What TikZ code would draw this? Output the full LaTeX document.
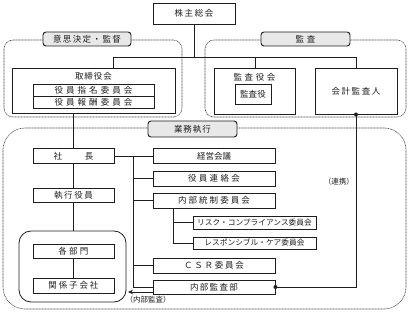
\documentclass[tikz,border=0pt]{standalone}
\usepackage{fontspec}
\setmainfont{Noto Sans CJK JP}
\usetikzlibrary{arrows.meta}
\def\sprA#1{#1\sprB}
\def\sprB#1{\ifx#1\relax\else\hfil#1\expandafter\sprB\fi}
\newcommand\spreadbox[2]{\makebox[#1pt][s]{\sprA#2\relax}}
\definecolor{tabgray}{RGB}{232,232,232}
\definecolor{ink}{RGB}{30,30,30}
\begin{document}
\begin{tikzpicture}[x=1pt,y=-1pt,
  every node/.style={text=ink},
  box/.style={draw=ink, line width=0.9pt, fill=white, inner sep=0pt, font=\fontsize{8.5}{9}\selectfont},
  tab/.style={draw=ink, line width=0.9pt, fill=tabgray, rounded corners=3pt, inner sep=0pt, font=\fontsize{8.5}{9}\selectfont},
  grp/.style={draw=ink!80, line width=0.6pt, dash pattern=on 0.9pt off 0.6pt, inner sep=0pt},
  sgrp/.style={draw=ink, line width=0.8pt, inner sep=0pt, rounded corners=12pt},
  conn/.style={draw=ink, line width=0.9pt},
  lbl/.style={inner sep=0pt, font=\fontsize{7.5}{8}\selectfont},
]
\useasboundingbox (0,0) rectangle (408,313);

% group boxes
\node[grp, rounded corners=9pt, minimum width=178pt, minimum height=77pt] (decgrp) at (93,78.5) {};
\node[grp, rounded corners=9pt, minimum width=201pt, minimum height=77pt] (audgrp) at (305.5,78.5) {};
\node[grp, rounded corners=22pt, minimum width=403pt, minimum height=181pt] (exegrp) at (204.5,218.5) {};
\node[sgrp, minimum width=107pt, minimum height=71pt] (bumongrp) at (72.5,266.5) {};

% tabs
\node[tab, minimum width=88pt, minimum height=14pt] (dectab) at (87,39) {\spreadbox{68}{意思決定・監督}};
\node[tab, minimum width=89pt, minimum height=14pt] (audtab) at (305.5,39) {\spreadbox{20}{監査}};
\node[tab, minimum width=89pt, minimum height=16pt] (exetab) at (192.5,129) {\spreadbox{37}{業務執行}};

% top
\node[box, minimum width=82pt, minimum height=21pt] (kabu) at (194,13.5) {\spreadbox{39}{株主総会}};

% decision
\node[box, minimum width=163pt, minimum height=45pt] (tori) at (93.5,90.5) {};
\node[lbl, font=\fontsize{8.5}{9}\selectfont] (torilbl) at (93.5,76) {\spreadbox{37}{取締役会}};
\node[box, minimum width=121pt, minimum height=12pt] (shimei) at (93.5,90) {\spreadbox{78}{役員指名委員会}};
\node[box, minimum width=121pt, minimum height=12pt] (hoshu) at (93.5,102) {\spreadbox{78}{役員報酬委員会}};

% audit
\node[box, minimum width=81pt, minimum height=46pt] (kansakai) at (254.5,91) {};
\node[lbl, font=\fontsize{8.5}{9}\selectfont] (kansakailbl) at (254.5,77) {\spreadbox{42}{監査役会}};
\node[box, minimum width=36pt, minimum height=20pt] (kansayaku) at (253,94) {\spreadbox{26}{監査役}};
\node[box, minimum width=82pt, minimum height=46pt] (kaikei) at (356,91) {\spreadbox{49}{会計監査人}};

% execution left
\node[box, minimum width=81pt, minimum height=15pt] (shacho) at (73.5,156) {\spreadbox{40}{社長}};
\node[box, minimum width=81pt, minimum height=14pt] (shikko) at (73.5,195) {\spreadbox{39}{執行役員}};
\node[box, minimum width=81pt, minimum height=14pt] (bumon) at (73.5,251) {\spreadbox{30}{各部門}};
\node[box, minimum width=81pt, minimum height=15pt] (kogaisha) at (73.5,285.5) {\spreadbox{50}{関係子会社}};

% execution right
\node[box, minimum width=122pt, minimum height=15pt] (keiei) at (214,156) {経営会議};
\node[box, minimum width=122pt, minimum height=15pt] (renraku) at (214,178.5) {\spreadbox{52}{役員連絡会}};
\node[box, minimum width=122pt, minimum height=15pt] (tosei) at (214,200.5) {\spreadbox{72}{内部統制委員会}};
\node[box, minimum width=123pt, minimum height=13pt, font=\fontsize{7.7}{8}\selectfont] (risk) at (254.5,222.5) {リスク・コンプライアンス委員会};
\node[box, minimum width=123pt, minimum height=12pt, font=\fontsize{7.7}{8}\selectfont] (resp) at (254.5,243) {レスポンシブル・ケア委員会};
\node[box, minimum width=122pt, minimum height=15pt] (csr) at (214,265.5) {\spreadbox{60}{ＣＳＲ委員会}};
\node[box, minimum width=122pt, minimum height=14pt] (kansabu) at (214,287) {\spreadbox{48}{内部監査部}};

% labels
\node[lbl, anchor=east] (renkei) at (354,182) {（連携）};
\node[lbl] (naibulbl) at (148,300) {（内部監査）};

% top connectors
\coordinate (jl) at (113,57);
\coordinate (jm) at (255,57);
\coordinate (jr) at (356,57);
\draw[conn] (kabu.south) -- (kabu.south |- jl);
\draw[conn] (jl) -- (jr);
\draw[conn] (jl) -- (jl |- tori.north);
\draw[conn] (jm) -- (jm |- kansakai.north);
\draw[conn] (jr) -- (kaikei.north);

% left chain
\draw[conn] (tori.south -| shacho.north) -- (shacho.north);
\draw[conn] (shacho.south) -- (shikko.north);
\draw[conn] (shikko.south) -- (bumongrp.north -| shikko.south);
\draw[conn] (bumon.south) -- (kogaisha.north);

% bus
\coordinate (bx) at (133,0);
\coordinate (sx) at (173,0);
\draw[conn] (shacho.east) -- (keiei.west);
\draw[conn] (bx |- keiei.west) -- (bx |- kansabu.west) -- (kansabu.west);
\draw[conn] (bx |- renraku.west) -- (renraku.west);
\draw[conn] (bx |- tosei.west) -- (tosei.west);
\draw[conn] (bx |- csr.west) -- (csr.west);
\draw[conn] (sx |- tosei.south) -- (sx |- resp.west) -- (resp.west);
\draw[conn] (sx |- risk.west) -- (risk.west);

% internal audit arrow
\coordinate (arrend) at (128,292);
\draw[conn, -{Stealth[length=5pt,width=4.5pt]}] (kansabu.west |- arrend) -- (arrend);

% cooperation line
\draw[conn] (kaikei.south) -- (kaikei.south |- kansabu.east) -- (kansabu.east);
\fill[ink] (kaikei.south) circle (2pt);
\fill[ink] (kansabu.east) circle (2pt);
\end{tikzpicture}
\end{document}
